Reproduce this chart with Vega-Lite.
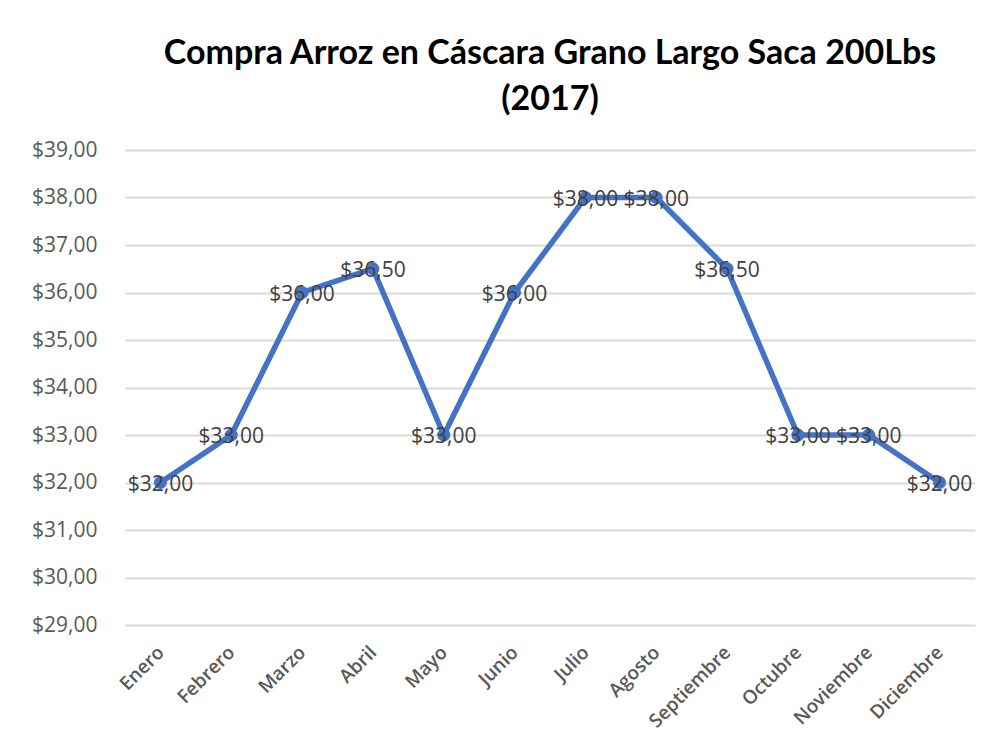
{
  "$schema": "https://vega.github.io/schema/vega-lite/v6.json",
  "width": 850,
  "height": 475,
  "autosize": {"type": "none"},
  "padding": {"left": 125, "top": 150, "right": 14, "bottom": 128},
  "background": "white",
  "config": {
    "locale": {"number": {"decimal": ",", "thousands": ".", "grouping": [3], "currency": ["$", ""]}},
    "view": {"stroke": null},
    "font": "Open Sans"
  },
  "title": {
    "text": ["Compra Arroz en Cáscara Grano Largo Saca 200Lbs", "(2017)"],
    "font": "Lato",
    "fontSize": 34,
    "fontWeight": "bold",
    "color": "#000000",
    "lineHeight": 46,
    "anchor": "middle",
    "offset": 22
  },
  "data": {
    "values": [
      {"mes": "Enero", "precio": 32.0},
      {"mes": "Febrero", "precio": 33.0},
      {"mes": "Marzo", "precio": 36.0},
      {"mes": "Abril", "precio": 36.5},
      {"mes": "Mayo", "precio": 33.0},
      {"mes": "Junio", "precio": 36.0},
      {"mes": "Julio", "precio": 38.0},
      {"mes": "Agosto", "precio": 38.0},
      {"mes": "Septiembre", "precio": 36.5},
      {"mes": "Octubre", "precio": 33.0},
      {"mes": "Noviembre", "precio": 33.0},
      {"mes": "Diciembre", "precio": 32.0}
    ]
  },
  "encoding": {
    "x": {
      "field": "mes",
      "type": "nominal",
      "sort": null,
      "scale": {"type": "point", "padding": 0.5},
      "axis": {
        "title": null,
        "labelAngle": -45,
        "labelAlign": "right",
        "labelBaseline": "middle",
        "labelFontSize": 19,
        "labelFontWeight": 600,
        "labelColor": "#595959",
        "labelPadding": 24,
        "domain": false,
        "ticks": false,
        "grid": false
      }
    },
    "y": {
      "field": "precio",
      "type": "quantitative",
      "scale": {"domain": [29, 39], "nice": false, "zero": false},
      "axis": {
        "title": null,
        "values": [29, 30, 31, 32, 33, 34, 35, 36, 37, 38, 39],
        "format": "$.2f",
        "labelFontSize": 21,
        "labelColor": "#595959",
        "labelPadding": 28,
        "domain": false,
        "ticks": false,
        "grid": true,
        "gridColor": "#d9d9d9",
        "gridWidth": 2
      }
    }
  },
  "layer": [
    {
      "mark": {"type": "line", "color": "#4472C4", "strokeWidth": 5.5, "point": {"filled": true, "size": 170, "color": "#4472C4"}}
    },
    {
      "mark": {"type": "text", "fontSize": 21, "color": "#404040", "baseline": "middle", "align": "center", "dy": 2},
      "encoding": {"text": {"field": "precio", "type": "quantitative", "format": "$.2f"}}
    }
  ]
}
